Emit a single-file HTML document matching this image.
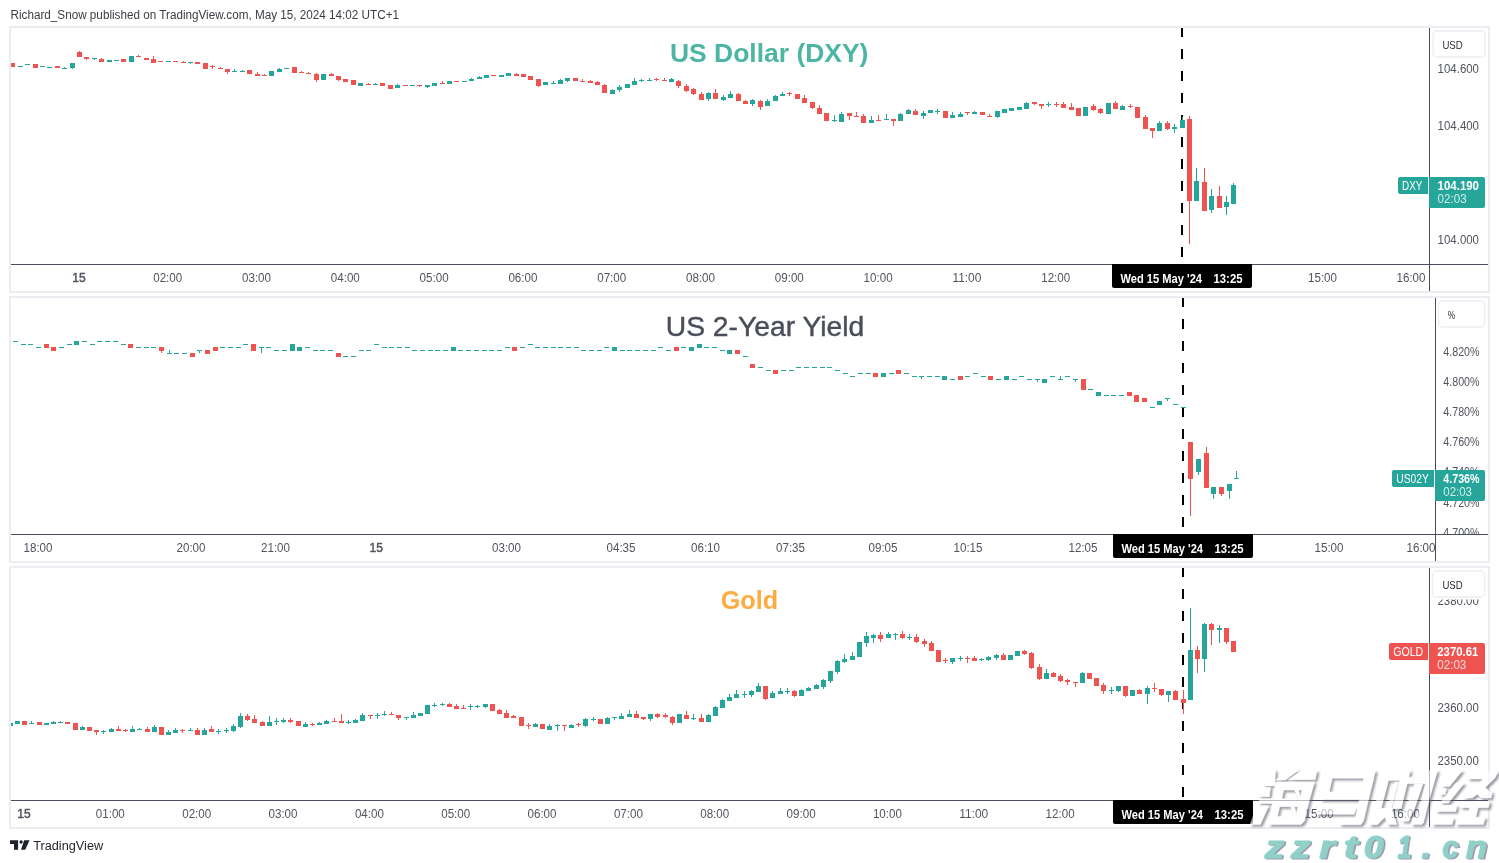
<!DOCTYPE html>
<html><head><meta charset="utf-8"><title>TradingView chart</title>
<style>
html,body{margin:0;padding:0;background:#fff;}
body{width:1499px;height:863px;overflow:hidden;font-family:"Liberation Sans",sans-serif;}
svg{display:block;font-family:"Liberation Sans",sans-serif;will-change:transform;}
</style></head><body>
<svg width="1499" height="863" viewBox="0 0 1499 863">
<rect x="0" y="0" width="1499" height="863" fill="#fff"/>
<text x="10.5" y="18.5" font-size="12" fill="#3a3d45" textLength="388.5" lengthAdjust="spacingAndGlyphs">Richard_Snow published on TradingView.com, May 15, 2024 14:02 UTC+1</text>
<clipPath id="cc0"><rect x="11" y="28" width="1418" height="236"/></clipPath>
<clipPath id="ca0"><rect x="1430" y="28" width="58" height="236"/></clipPath>
<clipPath id="ct0"><rect x="11" y="265" width="1418" height="26"/></clipPath>
<clipPath id="cc1"><rect x="11" y="298" width="1424" height="236"/></clipPath>
<clipPath id="ca1"><rect x="1436" y="298" width="52" height="236"/></clipPath>
<clipPath id="ct1"><rect x="11" y="535" width="1424" height="26"/></clipPath>
<clipPath id="cc2"><rect x="11" y="568" width="1418" height="232"/></clipPath>
<clipPath id="ca2"><rect x="1430" y="568" width="58" height="232"/></clipPath>
<clipPath id="ct2"><rect x="11" y="801" width="1418" height="26"/></clipPath>
<g shape-rendering="crispEdges">
<rect x="10" y="27" width="1479" height="265" fill="none" stroke="#ecedf2" stroke-width="2"/>
<rect x="1429" y="28" width="1" height="263" fill="#4a4e5c"/>
<rect x="11" y="264" width="1477" height="1" fill="#4a4e5c"/>
</g>
<g clip-path="url(#cc0)" shape-rendering="crispEdges">
<path fill="#000" d="M1181 27h2v10h-2zM1181 49h2v10h-2zM1181 71h2v10h-2zM1181 93h2v10h-2zM1181 115h2v10h-2zM1181 137h2v10h-2zM1181 159h2v10h-2zM1181 181h2v10h-2zM1181 203h2v10h-2zM1181 225h2v10h-2zM1181 247h2v10h-2z"/>
<path fill="#26a69a" d="M18 66h5v1h-5zM25 64h5v1h-5zM40 66h5v1h-5zM47 67h5v1h-5zM62 68h5v1h-5zM64 67h1v1h-1zM70 63h5v5h-5zM72 68h1v1h-1zM92 58h5v1h-5zM94 59h1v1h-1zM107 60h5v2h-5zM114 60h5v1h-5zM129 56h5v6h-5zM166 61h5v1h-5zM188 62h5v1h-5zM190 63h1v1h-1zM232 71h5v1h-5zM234 69h1v2h-1zM240 71h5v1h-5zM242 70h1v1h-1zM269 71h5v5h-5zM277 69h5v3h-5zM279 68h1v1h-1zM284 68h5v1h-5zM321 74h5v6h-5zM358 83h5v3h-5zM373 84h5v1h-5zM375 83h1v1h-1zM395 85h5v3h-5zM397 84h1v1h-1zM410 85h5v1h-5zM425 85h5v2h-5zM427 87h1v1h-1zM432 83h5v3h-5zM447 81h5v3h-5zM462 81h5v1h-5zM469 79h5v2h-5zM471 78h1v1h-1zM477 77h5v2h-5zM479 76h1v1h-1zM484 75h5v3h-5zM499 75h5v2h-5zM506 73h5v3h-5zM543 82h5v3h-5zM551 83h5v1h-5zM553 81h1v2h-1zM558 80h5v4h-5zM560 79h1v1h-1zM565 78h5v3h-5zM567 81h1v1h-1zM610 90h5v4h-5zM612 89h1v1h-1zM617 87h5v3h-5zM619 85h1v2h-1zM619 90h1v2h-1zM625 84h5v4h-5zM632 81h5v4h-5zM634 78h1v3h-1zM639 80h5v1h-5zM641 79h1v1h-1zM641 81h1v1h-1zM647 80h5v1h-5zM649 78h1v2h-1zM669 79h5v3h-5zM671 78h1v1h-1zM706 93h5v6h-5zM708 92h1v1h-1zM708 99h1v2h-1zM721 97h5v3h-5zM723 95h1v2h-1zM723 100h1v1h-1zM728 94h5v4h-5zM730 91h1v3h-1zM750 100h5v4h-5zM752 99h1v1h-1zM752 104h1v2h-1zM765 101h5v5h-5zM767 99h1v2h-1zM773 96h5v5h-5zM775 95h1v1h-1zM780 94h5v2h-5zM782 92h1v2h-1zM832 120h5v1h-5zM834 115h1v5h-1zM834 121h1v1h-1zM839 114h5v8h-5zM841 112h1v2h-1zM869 120h5v3h-5zM871 116h1v4h-1zM884 119h5v1h-5zM886 114h1v5h-1zM898 114h5v7h-5zM900 113h1v1h-1zM906 110h5v4h-5zM908 109h1v1h-1zM921 113h5v3h-5zM923 111h1v2h-1zM923 116h1v3h-1zM928 110h5v3h-5zM935 111h5v1h-5zM937 109h1v2h-1zM937 112h1v2h-1zM950 115h5v3h-5zM952 112h1v3h-1zM958 114h5v3h-5zM960 112h1v2h-1zM972 112h5v2h-5zM974 111h1v1h-1zM995 111h5v6h-5zM997 117h1v1h-1zM1002 109h5v4h-5zM1009 108h5v3h-5zM1017 107h5v3h-5zM1024 103h5v6h-5zM1026 102h1v1h-1zM1046 104h5v1h-5zM1048 102h1v2h-1zM1048 105h1v2h-1zM1083 107h5v9h-5zM1106 103h5v11h-5zM1120 106h5v4h-5zM1122 105h1v1h-1zM1157 123h5v8h-5zM1159 121h1v2h-1zM1172 127h5v2h-5zM1174 124h1v3h-1zM1174 129h1v4h-1zM1180 120h5v8h-5zM1182 117h1v3h-1zM1194 181h5v20h-5zM1196 168h1v13h-1zM1209 196h5v14h-5zM1211 189h1v7h-1zM1211 210h1v3h-1zM1224 202h5v5h-5zM1226 196h1v6h-1zM1226 207h1v8h-1zM1231 185h5v19h-5zM1233 183h1v2h-1z"/>
<path fill="#ef5350" d="M10 63h5v4h-5zM33 64h5v4h-5zM55 66h5v2h-5zM77 52h5v5h-5zM79 51h1v1h-1zM84 57h5v2h-5zM86 59h1v1h-1zM99 59h5v3h-5zM101 58h1v1h-1zM121 59h5v3h-5zM136 56h5v1h-5zM138 55h1v1h-1zM144 58h5v2h-5zM151 59h5v4h-5zM153 56h1v3h-1zM158 61h5v1h-5zM173 61h5v1h-5zM181 62h5v1h-5zM183 61h1v1h-1zM195 62h5v2h-5zM203 63h5v6h-5zM210 66h5v1h-5zM212 65h1v1h-1zM212 67h1v2h-1zM218 68h5v1h-5zM220 67h1v1h-1zM225 69h5v3h-5zM227 72h1v2h-1zM247 70h5v4h-5zM255 74h5v2h-5zM257 72h1v2h-1zM262 75h5v1h-5zM264 74h1v1h-1zM292 67h5v6h-5zM299 72h5v1h-5zM301 71h1v1h-1zM306 73h5v1h-5zM308 72h1v1h-1zM314 74h5v6h-5zM316 73h1v1h-1zM316 80h1v2h-1zM329 74h5v2h-5zM331 73h1v1h-1zM336 76h5v4h-5zM338 80h1v1h-1zM343 79h5v3h-5zM351 80h5v5h-5zM366 84h5v1h-5zM368 83h1v1h-1zM380 83h5v3h-5zM388 85h5v4h-5zM403 85h5v1h-5zM417 85h5v1h-5zM419 86h1v1h-1zM440 83h5v1h-5zM442 81h1v2h-1zM454 81h5v1h-5zM491 75h5v1h-5zM514 74h5v2h-5zM516 73h1v1h-1zM521 74h5v3h-5zM528 76h5v4h-5zM536 79h5v7h-5zM538 86h1v1h-1zM573 78h5v3h-5zM580 81h5v1h-5zM582 79h1v2h-1zM588 81h5v2h-5zM590 80h1v1h-1zM595 82h5v3h-5zM597 81h1v1h-1zM602 85h5v8h-5zM604 84h1v1h-1zM654 79h5v1h-5zM656 78h1v1h-1zM656 80h1v1h-1zM662 80h5v1h-5zM664 78h1v2h-1zM676 81h5v5h-5zM678 80h1v1h-1zM678 86h1v2h-1zM684 86h5v5h-5zM686 84h1v2h-1zM686 91h1v1h-1zM691 89h5v5h-5zM693 88h1v1h-1zM693 94h1v1h-1zM699 94h5v6h-5zM701 92h1v2h-1zM713 93h5v6h-5zM715 89h1v4h-1zM736 94h5v7h-5zM738 93h1v1h-1zM743 101h5v3h-5zM745 100h1v1h-1zM758 101h5v6h-5zM760 100h1v1h-1zM760 107h1v3h-1zM787 93h5v1h-5zM789 92h1v1h-1zM789 94h1v2h-1zM795 94h5v5h-5zM802 98h5v5h-5zM804 95h1v3h-1zM810 102h5v6h-5zM812 108h1v1h-1zM817 108h5v6h-5zM819 105h1v3h-1zM824 113h5v8h-5zM847 113h5v3h-5zM849 116h1v4h-1zM854 116h5v1h-5zM856 112h1v4h-1zM861 116h5v7h-5zM863 114h1v2h-1zM876 120h5v1h-5zM878 115h1v5h-1zM891 119h5v2h-5zM893 121h1v5h-1zM913 111h5v4h-5zM915 109h1v2h-1zM943 111h5v7h-5zM965 112h5v1h-5zM967 113h1v2h-1zM980 112h5v3h-5zM987 116h5v1h-5zM989 114h1v2h-1zM1032 102h5v2h-5zM1034 104h1v1h-1zM1039 104h5v2h-5zM1041 106h1v3h-1zM1054 104h5v1h-5zM1056 102h1v2h-1zM1056 105h1v2h-1zM1061 104h5v4h-5zM1063 102h1v2h-1zM1069 107h5v3h-5zM1071 103h1v4h-1zM1076 108h5v8h-5zM1091 106h5v4h-5zM1093 104h1v2h-1zM1093 110h1v1h-1zM1098 109h5v4h-5zM1100 108h1v1h-1zM1100 113h1v1h-1zM1113 103h5v6h-5zM1115 101h1v2h-1zM1128 106h5v1h-5zM1130 104h1v2h-1zM1130 107h1v1h-1zM1135 107h5v11h-5zM1143 117h5v12h-5zM1145 115h1v2h-1zM1150 128h5v3h-5zM1152 131h1v7h-1zM1165 123h5v6h-5zM1167 121h1v2h-1zM1167 129h1v1h-1zM1187 119h5v82h-5zM1189 116h1v3h-1zM1189 201h1v43h-1zM1202 182h5v29h-5zM1204 168h1v14h-1zM1217 196h5v12h-5zM1219 186h1v10h-1z"/>

</g>
<text x="769.2" y="61.5" font-size="26.5" fill="#4cb5a3" text-anchor="middle" font-weight="bold" textLength="198.5" lengthAdjust="spacingAndGlyphs">US Dollar (DXY)</text>
<g clip-path="url(#ca0)">
<text x="1437.6" y="72.7" font-size="12" fill="#50535e" textLength="41.4" lengthAdjust="spacingAndGlyphs">104.600</text>
<text x="1437.6" y="129.7" font-size="12" fill="#50535e" textLength="41.4" lengthAdjust="spacingAndGlyphs">104.400</text>
<text x="1437.6" y="186.7" font-size="12" fill="#50535e" textLength="41.4" lengthAdjust="spacingAndGlyphs">104.200</text>
<text x="1437.6" y="243.7" font-size="12" fill="#50535e" textLength="41.4" lengthAdjust="spacingAndGlyphs">104.000</text>
</g>
<rect x="1431" y="28.5" width="56" height="31" fill="#fff"/>
<rect x="1433" y="31" width="52" height="26" rx="4" ry="4" fill="#fff" stroke="#ecedf2" stroke-width="1.3"/>
<text x="1442.4" y="48.5" font-size="11" fill="#2a2e39" textLength="20.3" lengthAdjust="spacingAndGlyphs">USD</text>
<path fill="#26a69a" d="M1400 177H1428V194H1400a2 2 0 0 1 -2 -2V179a2 2 0 0 1 2 -2z"/>
<path fill="#26a69a" d="M1429 177H1483a2 2 0 0 1 2 2V206a2 2 0 0 1 -2 2H1429z"/>
<text x="1402" y="189.6" font-size="12" fill="#fff" textLength="20.3" lengthAdjust="spacingAndGlyphs">DXY</text>
<text x="1437.6" y="189.6" font-size="12" fill="#fff" font-weight="bold" textLength="41.4" lengthAdjust="spacingAndGlyphs">104.190</text>
<text x="1437.6" y="203.3" font-size="12" fill="#fff" textLength="29" lengthAdjust="spacingAndGlyphs" fill-opacity="0.8">02:03</text>
<g clip-path="url(#ct0)">
<text x="79" y="281.8" font-size="12" fill="#50535e" text-anchor="middle" stroke="#50535e" stroke-width="0.45">15</text>
<text x="167.7" y="281.8" font-size="12" fill="#50535e" text-anchor="middle" textLength="29" lengthAdjust="spacingAndGlyphs">02:00</text>
<text x="256.5" y="281.8" font-size="12" fill="#50535e" text-anchor="middle" textLength="29" lengthAdjust="spacingAndGlyphs">03:00</text>
<text x="345.3" y="281.8" font-size="12" fill="#50535e" text-anchor="middle" textLength="29" lengthAdjust="spacingAndGlyphs">04:00</text>
<text x="434.1" y="281.8" font-size="12" fill="#50535e" text-anchor="middle" textLength="29" lengthAdjust="spacingAndGlyphs">05:00</text>
<text x="522.9" y="281.8" font-size="12" fill="#50535e" text-anchor="middle" textLength="29" lengthAdjust="spacingAndGlyphs">06:00</text>
<text x="611.7" y="281.8" font-size="12" fill="#50535e" text-anchor="middle" textLength="29" lengthAdjust="spacingAndGlyphs">07:00</text>
<text x="700.5" y="281.8" font-size="12" fill="#50535e" text-anchor="middle" textLength="29" lengthAdjust="spacingAndGlyphs">08:00</text>
<text x="789.3" y="281.8" font-size="12" fill="#50535e" text-anchor="middle" textLength="29" lengthAdjust="spacingAndGlyphs">09:00</text>
<text x="878.1" y="281.8" font-size="12" fill="#50535e" text-anchor="middle" textLength="29" lengthAdjust="spacingAndGlyphs">10:00</text>
<text x="966.9" y="281.8" font-size="12" fill="#50535e" text-anchor="middle" textLength="29" lengthAdjust="spacingAndGlyphs">11:00</text>
<text x="1055.7" y="281.8" font-size="12" fill="#50535e" text-anchor="middle" textLength="29" lengthAdjust="spacingAndGlyphs">12:00</text>
<text x="1322.5" y="281.8" font-size="12" fill="#50535e" text-anchor="middle" textLength="29" lengthAdjust="spacingAndGlyphs">15:00</text>
<text x="1411" y="281.8" font-size="12" fill="#50535e" text-anchor="middle" textLength="29" lengthAdjust="spacingAndGlyphs">16:00</text>
</g>
<path fill="#000" d="M1112 264H1252V286a2 2 0 0 1 -2 2H1114a2 2 0 0 1 -2 -2z"/>
<text x="1120.5" y="282.5" font-size="12" fill="#fff" font-weight="bold" textLength="81.5" lengthAdjust="spacingAndGlyphs">Wed 15 May '24</text>
<text x="1213.5" y="282.5" font-size="12" fill="#fff" font-weight="bold" textLength="29" lengthAdjust="spacingAndGlyphs">13:25</text>
<g shape-rendering="crispEdges">
<rect x="10" y="297" width="1479" height="265" fill="none" stroke="#ecedf2" stroke-width="2"/>
<rect x="1435" y="298" width="1" height="263" fill="#4a4e5c"/>
<rect x="11" y="534" width="1477" height="1" fill="#4a4e5c"/>
</g>
<g clip-path="url(#cc1)" shape-rendering="crispEdges">
<path fill="#000" d="M1182 297h2v10h-2zM1182 319h2v10h-2zM1182 341h2v10h-2zM1182 363h2v10h-2zM1182 385h2v10h-2zM1182 407h2v10h-2zM1182 429h2v10h-2zM1182 451h2v10h-2zM1182 473h2v10h-2zM1182 495h2v10h-2zM1182 517h2v10h-2z"/>
<path fill="#26a69a" d="M13 341h5v1h-5zM21 344h5v1h-5zM28 344h5v1h-5zM36 347h5v1h-5zM59 347h5v1h-5zM67 344h5v1h-5zM74 341h5v4h-5zM82 341h5v1h-5zM90 344h5v1h-5zM97 341h5v1h-5zM105 341h5v1h-5zM113 341h5v1h-5zM121 344h5v1h-5zM136 347h5v1h-5zM144 347h5v1h-5zM151 347h5v1h-5zM167 353h5v1h-5zM169 350h1v3h-1zM174 353h5v1h-5zM182 353h5v1h-5zM197 350h5v1h-5zM199 351h1v2h-1zM220 347h5v1h-5zM228 347h5v1h-5zM236 347h5v1h-5zM243 344h5v1h-5zM259 347h5v1h-5zM261 348h1v5h-1zM266 347h5v1h-5zM274 350h5v1h-5zM282 350h5v1h-5zM290 344h5v7h-5zM297 347h5v4h-5zM305 347h5v1h-5zM313 350h5v1h-5zM320 350h5v1h-5zM328 350h5v1h-5zM343 356h5v1h-5zM351 356h5v1h-5zM359 350h5v1h-5zM366 350h5v1h-5zM374 344h5v1h-5zM382 347h5v1h-5zM389 347h5v1h-5zM397 347h5v1h-5zM405 347h5v1h-5zM412 350h5v1h-5zM420 350h5v1h-5zM428 350h5v1h-5zM435 350h5v1h-5zM443 350h5v1h-5zM451 347h5v4h-5zM458 350h5v1h-5zM466 350h5v1h-5zM474 350h5v1h-5zM482 350h5v1h-5zM489 350h5v1h-5zM497 350h5v1h-5zM505 347h5v1h-5zM520 347h5v1h-5zM528 344h5v1h-5zM535 347h5v1h-5zM543 347h5v1h-5zM551 347h5v1h-5zM558 347h5v1h-5zM566 347h5v1h-5zM574 347h5v1h-5zM581 350h5v1h-5zM589 350h5v1h-5zM597 350h5v1h-5zM604 347h5v1h-5zM612 347h5v4h-5zM620 350h5v1h-5zM627 350h5v1h-5zM635 350h5v1h-5zM643 350h5v1h-5zM651 350h5v1h-5zM658 347h5v1h-5zM666 350h5v1h-5zM681 347h5v1h-5zM689 347h5v4h-5zM697 344h5v4h-5zM704 347h5v1h-5zM712 347h5v1h-5zM720 350h5v1h-5zM727 350h5v4h-5zM743 356h5v1h-5zM758 367h5v1h-5zM766 370h5v1h-5zM781 370h5v1h-5zM789 370h5v1h-5zM796 367h5v1h-5zM804 367h5v1h-5zM812 367h5v1h-5zM820 367h5v1h-5zM827 367h5v1h-5zM835 370h5v1h-5zM843 373h5v1h-5zM850 376h5v1h-5zM858 373h5v1h-5zM866 373h5v1h-5zM881 373h5v4h-5zM889 373h5v1h-5zM904 373h5v1h-5zM912 376h5v1h-5zM919 376h5v1h-5zM921 377h1v2h-1zM927 376h5v1h-5zM935 376h5v1h-5zM942 376h5v4h-5zM950 379h5v1h-5zM965 376h5v1h-5zM973 373h5v1h-5zM981 376h5v1h-5zM996 379h5v1h-5zM1004 376h5v4h-5zM1012 379h5v1h-5zM1019 376h5v1h-5zM1027 379h5v1h-5zM1035 379h5v1h-5zM1037 380h1v2h-1zM1042 379h5v4h-5zM1050 376h5v1h-5zM1058 379h5v1h-5zM1060 376h1v3h-1zM1065 376h5v1h-5zM1073 379h5v1h-5zM1075 380h1v2h-1zM1088 389h5v1h-5zM1096 392h5v4h-5zM1104 395h5v1h-5zM1111 395h5v1h-5zM1119 395h5v1h-5zM1150 407h5v1h-5zM1157 401h5v4h-5zM1165 398h5v1h-5zM1167 399h1v2h-1zM1173 404h5v1h-5zM1181 407h5v1h-5zM1196 459h5v13h-5zM1198 472h1v3h-1zM1211 487h5v7h-5zM1213 494h1v5h-1zM1227 484h5v7h-5zM1229 491h1v8h-1zM1234 478h5v1h-5zM1236 471h1v7h-1z"/>
<path fill="#ef5350" d="M44 344h5v4h-5zM51 347h5v4h-5zM128 344h5v4h-5zM159 347h5v4h-5zM161 351h1v2h-1zM190 353h5v4h-5zM205 350h5v4h-5zM213 347h5v4h-5zM251 344h5v7h-5zM336 353h5v4h-5zM512 347h5v4h-5zM674 347h5v4h-5zM735 350h5v4h-5zM750 364h5v4h-5zM773 370h5v4h-5zM873 373h5v4h-5zM896 370h5v4h-5zM958 376h5v4h-5zM988 376h5v4h-5zM1081 379h5v11h-5zM1127 392h5v4h-5zM1134 395h5v7h-5zM1142 398h5v4h-5zM1188 442h5v37h-5zM1190 479h1v37h-1zM1204 453h5v35h-5zM1206 447h1v6h-1zM1219 487h5v7h-5zM1221 494h1v2h-1z"/>

</g>
<text x="765" y="335.9" font-size="27" fill="#4a4e5a" text-anchor="middle" textLength="198.5" lengthAdjust="spacingAndGlyphs" stroke="#4a4e5a" stroke-width="0.4">US 2-Year Yield</text>
<g clip-path="url(#ca1)">
<text x="1443.3" y="356.0" font-size="12" fill="#50535e" textLength="36.2" lengthAdjust="spacingAndGlyphs">4.820%</text>
<text x="1443.3" y="386.1" font-size="12" fill="#50535e" textLength="36.2" lengthAdjust="spacingAndGlyphs">4.800%</text>
<text x="1443.3" y="416.2" font-size="12" fill="#50535e" textLength="36.2" lengthAdjust="spacingAndGlyphs">4.780%</text>
<text x="1443.3" y="446.3" font-size="12" fill="#50535e" textLength="36.2" lengthAdjust="spacingAndGlyphs">4.760%</text>
<text x="1443.3" y="476.4" font-size="12" fill="#50535e" textLength="36.2" lengthAdjust="spacingAndGlyphs">4.740%</text>
<text x="1443.3" y="506.5" font-size="12" fill="#50535e" textLength="36.2" lengthAdjust="spacingAndGlyphs">4.720%</text>
<text x="1443.3" y="536.6" font-size="12" fill="#50535e" textLength="36.2" lengthAdjust="spacingAndGlyphs">4.700%</text>
</g>
<rect x="1436.5" y="298.5" width="50" height="31" fill="#fff"/>
<rect x="1438.5" y="301" width="46" height="26" rx="4" ry="4" fill="#fff" stroke="#ecedf2" stroke-width="1.3"/>
<text x="1447.8" y="319" font-size="11" fill="#2a2e39" textLength="7.4" lengthAdjust="spacingAndGlyphs">%</text>
<path fill="#26a69a" d="M1394 470H1434V487H1394a2 2 0 0 1 -2 -2V472a2 2 0 0 1 2 -2z"/>
<path fill="#26a69a" d="M1435 470H1483a2 2 0 0 1 2 2V499a2 2 0 0 1 -2 2H1435z"/>
<text x="1396.3" y="482.6" font-size="12" fill="#fff" textLength="32.6" lengthAdjust="spacingAndGlyphs">US02Y</text>
<text x="1443.3" y="482.6" font-size="12" fill="#fff" font-weight="bold" textLength="36.2" lengthAdjust="spacingAndGlyphs">4.736%</text>
<text x="1443.3" y="496.3" font-size="12" fill="#fff" textLength="28.7" lengthAdjust="spacingAndGlyphs" fill-opacity="0.8">02:03</text>
<g clip-path="url(#ct1)">
<text x="38" y="551.7" font-size="12" fill="#50535e" text-anchor="middle" textLength="29" lengthAdjust="spacingAndGlyphs">18:00</text>
<text x="191" y="551.7" font-size="12" fill="#50535e" text-anchor="middle" textLength="29" lengthAdjust="spacingAndGlyphs">20:00</text>
<text x="275.5" y="551.7" font-size="12" fill="#50535e" text-anchor="middle" textLength="29" lengthAdjust="spacingAndGlyphs">21:00</text>
<text x="506.5" y="551.7" font-size="12" fill="#50535e" text-anchor="middle" textLength="29" lengthAdjust="spacingAndGlyphs">03:00</text>
<text x="621" y="551.7" font-size="12" fill="#50535e" text-anchor="middle" textLength="29" lengthAdjust="spacingAndGlyphs">04:35</text>
<text x="705.5" y="551.7" font-size="12" fill="#50535e" text-anchor="middle" textLength="29" lengthAdjust="spacingAndGlyphs">06:10</text>
<text x="790.5" y="551.7" font-size="12" fill="#50535e" text-anchor="middle" textLength="29" lengthAdjust="spacingAndGlyphs">07:35</text>
<text x="883" y="551.7" font-size="12" fill="#50535e" text-anchor="middle" textLength="29" lengthAdjust="spacingAndGlyphs">09:05</text>
<text x="968" y="551.7" font-size="12" fill="#50535e" text-anchor="middle" textLength="29" lengthAdjust="spacingAndGlyphs">10:15</text>
<text x="1083" y="551.7" font-size="12" fill="#50535e" text-anchor="middle" textLength="29" lengthAdjust="spacingAndGlyphs">12:05</text>
<text x="1329" y="551.7" font-size="12" fill="#50535e" text-anchor="middle" textLength="29" lengthAdjust="spacingAndGlyphs">15:00</text>
<text x="1421" y="551.7" font-size="12" fill="#50535e" text-anchor="middle" textLength="29" lengthAdjust="spacingAndGlyphs">16:00</text>
<text x="376.2" y="551.7" font-size="12" fill="#50535e" text-anchor="middle" stroke="#50535e" stroke-width="0.45">15</text>
</g>
<path fill="#000" d="M1113 534H1253V556a2 2 0 0 1 -2 2H1115a2 2 0 0 1 -2 -2z"/>
<text x="1121.5" y="552.5" font-size="12" fill="#fff" font-weight="bold" textLength="81.5" lengthAdjust="spacingAndGlyphs">Wed 15 May '24</text>
<text x="1214.5" y="552.5" font-size="12" fill="#fff" font-weight="bold" textLength="29" lengthAdjust="spacingAndGlyphs">13:25</text>
<g shape-rendering="crispEdges">
<rect x="10" y="567" width="1479" height="261" fill="none" stroke="#ecedf2" stroke-width="2"/>
<rect x="1429" y="568" width="1" height="259" fill="#4a4e5c"/>
<rect x="11" y="800" width="1477" height="1" fill="#4a4e5c"/>
</g>
<g clip-path="url(#cc2)" shape-rendering="crispEdges">
<path fill="#000" d="M1182 567h2v10h-2zM1182 589h2v10h-2zM1182 611h2v10h-2zM1182 633h2v10h-2zM1182 655h2v10h-2zM1182 677h2v10h-2zM1182 699h2v10h-2zM1182 721h2v10h-2zM1182 743h2v10h-2zM1182 765h2v10h-2zM1182 787h2v10h-2z"/>
<path fill="#26a69a" d="M8 723h5v3h-5zM15 721h5v3h-5zM29 723h5v1h-5zM31 721h1v2h-1zM44 723h5v2h-5zM51 722h5v2h-5zM53 721h1v1h-1zM58 722h5v1h-5zM60 721h1v1h-1zM80 727h5v3h-5zM82 726h1v1h-1zM101 731h5v1h-5zM103 730h1v1h-1zM103 732h1v2h-1zM109 729h5v3h-5zM111 728h1v1h-1zM130 729h5v3h-5zM132 726h1v3h-1zM137 729h5v1h-5zM139 728h1v1h-1zM152 727h5v5h-5zM154 725h1v2h-1zM166 732h5v3h-5zM168 730h1v2h-1zM173 730h5v3h-5zM175 728h1v2h-1zM188 730h5v1h-5zM190 728h1v2h-1zM202 730h5v5h-5zM204 728h1v2h-1zM216 731h5v1h-5zM218 729h1v2h-1zM218 732h1v2h-1zM224 730h5v1h-5zM226 728h1v2h-1zM226 731h1v2h-1zM231 726h5v5h-5zM233 724h1v2h-1zM233 731h1v1h-1zM238 716h5v11h-5zM240 713h1v3h-1zM240 727h1v1h-1zM267 722h5v4h-5zM269 716h1v6h-1zM274 721h5v1h-5zM276 718h1v3h-1zM276 722h1v3h-1zM281 720h5v2h-5zM283 718h1v2h-1zM283 722h1v1h-1zM303 724h5v3h-5zM305 722h1v2h-1zM317 723h5v2h-5zM319 722h1v1h-1zM324 721h5v3h-5zM326 720h1v1h-1zM346 722h5v1h-5zM348 720h1v2h-1zM348 723h1v1h-1zM353 720h5v3h-5zM355 719h1v1h-1zM360 715h5v6h-5zM362 713h1v2h-1zM375 715h5v1h-5zM377 713h1v2h-1zM377 716h1v3h-1zM382 714h5v1h-5zM384 711h1v3h-1zM384 715h1v1h-1zM404 717h5v1h-5zM406 718h1v2h-1zM411 715h5v3h-5zM413 712h1v3h-1zM418 713h5v3h-5zM425 705h5v9h-5zM432 705h5v1h-5zM434 703h1v2h-1zM434 706h1v1h-1zM440 704h5v1h-5zM442 703h1v1h-1zM442 705h1v1h-1zM468 706h5v1h-5zM470 704h1v2h-1zM470 707h1v3h-1zM475 706h5v1h-5zM477 705h1v1h-1zM477 707h1v1h-1zM483 704h5v3h-5zM485 707h1v1h-1zM533 724h5v3h-5zM535 723h1v1h-1zM547 726h5v4h-5zM549 724h1v2h-1zM555 725h5v1h-5zM557 724h1v1h-1zM557 726h1v5h-1zM569 725h5v3h-5zM571 724h1v1h-1zM583 719h5v7h-5zM585 718h1v1h-1zM585 726h1v1h-1zM591 719h5v1h-5zM593 717h1v2h-1zM593 720h1v1h-1zM605 718h5v6h-5zM607 717h1v1h-1zM612 717h5v1h-5zM614 718h1v2h-1zM619 716h5v3h-5zM621 713h1v3h-1zM627 714h5v3h-5zM629 710h1v4h-1zM648 714h5v5h-5zM650 719h1v2h-1zM677 714h5v9h-5zM691 718h5v1h-5zM693 714h1v4h-1zM693 719h1v1h-1zM706 715h5v7h-5zM708 714h1v1h-1zM713 707h5v9h-5zM715 706h1v1h-1zM720 700h5v8h-5zM722 699h1v1h-1zM727 697h5v4h-5zM729 694h1v3h-1zM734 694h5v4h-5zM736 690h1v4h-1zM742 694h5v1h-5zM744 691h1v3h-1zM744 695h1v3h-1zM749 691h5v4h-5zM751 690h1v1h-1zM751 695h1v2h-1zM756 686h5v6h-5zM758 683h1v3h-1zM770 693h5v5h-5zM772 691h1v2h-1zM778 691h5v3h-5zM780 688h1v3h-1zM785 691h5v1h-5zM787 688h1v3h-1zM787 692h1v2h-1zM799 690h5v6h-5zM801 689h1v1h-1zM806 688h5v3h-5zM808 687h1v1h-1zM814 685h5v4h-5zM816 684h1v1h-1zM821 680h5v7h-5zM823 679h1v1h-1zM823 687h1v2h-1zM828 671h5v10h-5zM830 681h1v2h-1zM835 661h5v11h-5zM837 660h1v1h-1zM837 672h1v2h-1zM842 659h5v3h-5zM844 654h1v5h-1zM844 662h1v1h-1zM850 656h5v4h-5zM852 652h1v4h-1zM857 642h5v15h-5zM864 636h5v7h-5zM866 632h1v4h-1zM866 643h1v4h-1zM871 635h5v3h-5zM873 634h1v1h-1zM873 638h1v5h-1zM886 634h5v4h-5zM888 632h1v2h-1zM893 634h5v1h-5zM895 633h1v1h-1zM895 635h1v5h-1zM907 637h5v1h-5zM909 634h1v3h-1zM909 638h1v2h-1zM950 658h5v4h-5zM952 662h1v2h-1zM958 658h5v1h-5zM960 656h1v2h-1zM960 659h1v2h-1zM979 659h5v1h-5zM981 658h1v1h-1zM981 660h1v1h-1zM986 657h5v3h-5zM988 656h1v1h-1zM988 660h1v1h-1zM994 655h5v3h-5zM996 654h1v1h-1zM996 658h1v2h-1zM1008 655h5v5h-5zM1015 651h5v5h-5zM1044 673h5v6h-5zM1046 669h1v4h-1zM1080 673h5v10h-5zM1082 672h1v1h-1zM1109 690h5v1h-5zM1111 687h1v3h-1zM1111 691h1v3h-1zM1116 686h5v5h-5zM1118 691h1v1h-1zM1130 690h5v6h-5zM1145 688h5v6h-5zM1147 686h1v2h-1zM1147 694h1v10h-1zM1166 691h5v4h-5zM1168 695h1v7h-1zM1188 650h5v50h-5zM1190 608h1v42h-1zM1202 624h5v35h-5zM1204 623h1v1h-1zM1204 659h1v13h-1zM1217 628h5v2h-5zM1219 625h1v3h-1zM1219 630h1v13h-1z"/>
<path fill="#ef5350" d="M22 721h5v4h-5zM37 722h5v3h-5zM65 722h5v2h-5zM73 723h5v7h-5zM87 727h5v4h-5zM94 730h5v2h-5zM96 732h1v3h-1zM116 729h5v2h-5zM118 726h1v3h-1zM123 730h5v1h-5zM125 729h1v1h-1zM125 731h1v1h-1zM145 729h5v3h-5zM147 727h1v2h-1zM159 727h5v8h-5zM180 730h5v1h-5zM182 729h1v1h-1zM182 731h1v2h-1zM195 730h5v5h-5zM197 728h1v2h-1zM209 729h5v3h-5zM211 726h1v3h-1zM245 716h5v4h-5zM247 714h1v2h-1zM247 720h1v1h-1zM252 719h5v4h-5zM254 715h1v4h-1zM260 722h5v4h-5zM262 721h1v1h-1zM288 720h5v2h-5zM290 718h1v2h-1zM290 722h1v1h-1zM296 721h5v5h-5zM310 724h5v1h-5zM312 723h1v1h-1zM312 725h1v1h-1zM332 721h5v1h-5zM334 718h1v3h-1zM339 721h5v2h-5zM341 714h1v7h-1zM368 715h5v1h-5zM370 716h1v3h-1zM389 714h5v1h-5zM391 712h1v2h-1zM396 715h5v3h-5zM398 718h1v2h-1zM447 704h5v3h-5zM449 703h1v1h-1zM454 706h5v3h-5zM456 704h1v2h-1zM461 708h5v1h-5zM463 705h1v3h-1zM490 704h5v7h-5zM497 710h5v4h-5zM499 709h1v1h-1zM504 713h5v5h-5zM506 710h1v3h-1zM511 716h5v2h-5zM513 715h1v1h-1zM519 717h5v9h-5zM526 725h5v1h-5zM528 723h1v2h-1zM528 726h1v3h-1zM540 724h5v5h-5zM562 725h5v1h-5zM564 726h1v5h-1zM576 724h5v1h-5zM578 723h1v1h-1zM578 725h1v2h-1zM598 719h5v5h-5zM634 714h5v4h-5zM636 711h1v3h-1zM641 717h5v2h-5zM643 719h1v1h-1zM655 714h5v3h-5zM657 713h1v1h-1zM657 717h1v1h-1zM663 715h5v2h-5zM665 713h1v2h-1zM665 717h1v1h-1zM670 717h5v6h-5zM672 716h1v1h-1zM672 723h1v2h-1zM684 715h5v4h-5zM686 711h1v4h-1zM699 718h5v4h-5zM701 714h1v4h-1zM763 686h5v13h-5zM765 699h1v1h-1zM792 691h5v5h-5zM794 690h1v1h-1zM794 696h1v1h-1zM878 635h5v4h-5zM880 632h1v3h-1zM880 639h1v3h-1zM900 634h5v4h-5zM902 631h1v3h-1zM902 638h1v1h-1zM914 637h5v5h-5zM916 634h1v3h-1zM916 642h1v1h-1zM922 641h5v3h-5zM924 639h1v2h-1zM924 644h1v3h-1zM929 643h5v8h-5zM931 641h1v2h-1zM936 650h5v12h-5zM943 660h5v1h-5zM945 658h1v2h-1zM945 661h1v2h-1zM965 658h5v1h-5zM967 656h1v2h-1zM967 659h1v4h-1zM972 658h5v3h-5zM974 656h1v2h-1zM1001 655h5v5h-5zM1003 653h1v2h-1zM1022 651h5v3h-5zM1024 650h1v1h-1zM1024 654h1v1h-1zM1029 653h5v15h-5zM1031 652h1v1h-1zM1031 668h1v1h-1zM1037 667h5v12h-5zM1039 664h1v3h-1zM1039 679h1v1h-1zM1051 673h5v4h-5zM1053 672h1v1h-1zM1058 676h5v5h-5zM1060 674h1v2h-1zM1060 681h1v1h-1zM1065 680h5v2h-5zM1067 679h1v1h-1zM1067 682h1v3h-1zM1073 682h5v1h-5zM1075 683h1v4h-1zM1087 673h5v6h-5zM1094 678h5v8h-5zM1101 685h5v6h-5zM1103 683h1v2h-1zM1103 691h1v3h-1zM1123 686h5v10h-5zM1125 696h1v1h-1zM1137 690h5v4h-5zM1139 689h1v1h-1zM1152 688h5v1h-5zM1154 683h1v5h-1zM1154 689h1v3h-1zM1159 689h5v6h-5zM1161 695h1v1h-1zM1173 691h5v9h-5zM1175 690h1v1h-1zM1181 699h5v4h-5zM1183 690h1v9h-1zM1183 703h1v11h-1zM1195 650h5v9h-5zM1197 646h1v4h-1zM1197 659h1v14h-1zM1209 624h5v6h-5zM1211 623h1v1h-1zM1211 630h1v15h-1zM1224 628h5v14h-5zM1226 642h1v2h-1zM1231 641h5v11h-5z"/>

</g>
<text x="749.4" y="608.8" font-size="26.5" fill="#ffab40" text-anchor="middle" font-weight="bold" textLength="57.5" lengthAdjust="spacingAndGlyphs">Gold</text>
<g clip-path="url(#ca2)">
<text x="1437.5" y="605" font-size="12" fill="#50535e" textLength="41.3" lengthAdjust="spacingAndGlyphs">2380.00</text>
<text x="1437.5" y="658.3" font-size="12" fill="#50535e" textLength="41.3" lengthAdjust="spacingAndGlyphs">2370.00</text>
<text x="1437.5" y="711.7" font-size="12" fill="#50535e" textLength="41.3" lengthAdjust="spacingAndGlyphs">2360.00</text>
<text x="1437.5" y="765.4" font-size="12" fill="#50535e" textLength="41.3" lengthAdjust="spacingAndGlyphs">2350.00</text>
</g>
<rect x="1430.5" y="568.5" width="56" height="31" fill="#fff"/>
<rect x="1432.5" y="571" width="52" height="26" rx="4" ry="4" fill="#fff" stroke="#ecedf2" stroke-width="1.3"/>
<text x="1442.4" y="588.5" font-size="11" fill="#2a2e39" textLength="20.3" lengthAdjust="spacingAndGlyphs">USD</text>
<path fill="#ef5350" d="M1391 643H1428V660H1391a2 2 0 0 1 -2 -2V645a2 2 0 0 1 2 -2z"/>
<path fill="#ef5350" d="M1429 643H1483a2 2 0 0 1 2 2V672a2 2 0 0 1 -2 2H1429z"/>
<text x="1393.2" y="655.6" font-size="12" fill="#fff" textLength="30" lengthAdjust="spacingAndGlyphs">GOLD</text>
<text x="1437.3" y="655.6" font-size="12" fill="#fff" font-weight="bold" textLength="41" lengthAdjust="spacingAndGlyphs">2370.61</text>
<text x="1437.3" y="669.3" font-size="12" fill="#fff" textLength="29" lengthAdjust="spacingAndGlyphs" fill-opacity="0.8">02:03</text>
<g clip-path="url(#ct2)">
<text x="24" y="817.8" font-size="12" fill="#50535e" text-anchor="middle" stroke="#50535e" stroke-width="0.45">15</text>
<text x="110.3" y="817.8" font-size="12" fill="#50535e" text-anchor="middle" textLength="29" lengthAdjust="spacingAndGlyphs">01:00</text>
<text x="196.7" y="817.8" font-size="12" fill="#50535e" text-anchor="middle" textLength="29" lengthAdjust="spacingAndGlyphs">02:00</text>
<text x="283.0" y="817.8" font-size="12" fill="#50535e" text-anchor="middle" textLength="29" lengthAdjust="spacingAndGlyphs">03:00</text>
<text x="369.4" y="817.8" font-size="12" fill="#50535e" text-anchor="middle" textLength="29" lengthAdjust="spacingAndGlyphs">04:00</text>
<text x="455.7" y="817.8" font-size="12" fill="#50535e" text-anchor="middle" textLength="29" lengthAdjust="spacingAndGlyphs">05:00</text>
<text x="542.0" y="817.8" font-size="12" fill="#50535e" text-anchor="middle" textLength="29" lengthAdjust="spacingAndGlyphs">06:00</text>
<text x="628.4" y="817.8" font-size="12" fill="#50535e" text-anchor="middle" textLength="29" lengthAdjust="spacingAndGlyphs">07:00</text>
<text x="714.7" y="817.8" font-size="12" fill="#50535e" text-anchor="middle" textLength="29" lengthAdjust="spacingAndGlyphs">08:00</text>
<text x="801.1" y="817.8" font-size="12" fill="#50535e" text-anchor="middle" textLength="29" lengthAdjust="spacingAndGlyphs">09:00</text>
<text x="887.4" y="817.8" font-size="12" fill="#50535e" text-anchor="middle" textLength="29" lengthAdjust="spacingAndGlyphs">10:00</text>
<text x="973.7" y="817.8" font-size="12" fill="#50535e" text-anchor="middle" textLength="29" lengthAdjust="spacingAndGlyphs">11:00</text>
<text x="1060.1" y="817.8" font-size="12" fill="#50535e" text-anchor="middle" textLength="29" lengthAdjust="spacingAndGlyphs">12:00</text>
<text x="1319.1" y="817.8" font-size="12" fill="#50535e" text-anchor="middle" textLength="29" lengthAdjust="spacingAndGlyphs">15:00</text>
<text x="1405.4" y="817.8" font-size="12" fill="#50535e" text-anchor="middle" textLength="29" lengthAdjust="spacingAndGlyphs">16:00</text>
</g>
<path fill="#000" d="M1113 800H1253V822a2 2 0 0 1 -2 2H1115a2 2 0 0 1 -2 -2z"/>
<text x="1121.5" y="818.5" font-size="12" fill="#fff" font-weight="bold" textLength="81.5" lengthAdjust="spacingAndGlyphs">Wed 15 May '24</text>
<text x="1214.5" y="818.5" font-size="12" fill="#fff" font-weight="bold" textLength="29" lengthAdjust="spacingAndGlyphs">13:25</text>
<path fill="#1e222d" d="M10 840.2h8.1v9.6h-4.1v-5.9h-4z M24.2 840.2h5.4l-4.4 9.6h-4.2z"/>
<circle cx="21.1" cy="842" r="1.7" fill="#1e222d"/>
<text x="33.2" y="849.7" font-size="12.5" fill="#1e222d" textLength="70" lengthAdjust="spacingAndGlyphs">TradingView</text>
<filter id="wb" x="-5%" y="-10%" width="110%" height="120%"><feGaussianBlur stdDeviation="0.7"/></filter>
<filter id="ds" x="-5%" y="-10%" width="110%" height="125%" color-interpolation-filters="sRGB">
<feOffset in="SourceAlpha" dx="1.7" dy="1.7" result="o"/>
<feGaussianBlur in="o" stdDeviation="0.8" result="b"/>
<feComposite in="b" in2="SourceAlpha" operator="out" result="sh"/>
<feFlood flood-color="#555868" flood-opacity="0.6"/><feComposite in2="sh" operator="in" result="shc"/>
<feFlood flood-color="#fff" flood-opacity="0.62"/><feComposite in2="SourceAlpha" operator="in" result="wh"/>
<feMerge><feMergeNode in="wh"/><feMergeNode in="shc"/></feMerge>
</filter>
<g fill="#fff" fill-rule="evenodd" stroke="#fff" stroke-width="0.5" stroke-linejoin="round" filter="url(#ds)"><path d="M1264.84 770.08 L1275.59 770.08 L1274.85 786.03 L1263.72 786.03z"/><path d="M1260.39 787.51 L1270.4 787.51 L1269.44 796.79 L1258.9 796.79z"/><path d="M1257.05 805.69 L1268.92 805.69 L1260.39 824.61 L1250.0 824.61z"/><path d="M1291.54 769.34 L1298.96 770.08 L1285.61 779.95 L1275.59 779.95z"/><path d="M1301.56 770.45 L1317.14 770.45 L1315.28 779.72 L1288.2 779.72z"/><path d="M1275.59 781.95 L1314.54 781.95 L1309.35 800.87 L1304.53 820.9 L1301.19 824.46 L1268.92 824.46zM1283.75 790.11 L1294.51 790.11 L1298.59 798.64 L1281.9 798.64zM1298.59 790.11 L1301.93 790.11 L1300.3 797.16zM1279.67 806.65 L1290.65 806.65 L1293.77 816.45 L1277.6 816.45zM1294.51 806.65 L1297.85 806.65 L1296.36 813.48z"/><path d="M1259.64 798.64 L1275.96 798.64 L1274.48 803.46 L1258.53 803.46z"/><path d="M1324.84 770.45 L1375.65 770.45 L1373.8 778.24 L1325.95 778.24z"/><path d="M1325.95 778.24 L1332.26 778.24 L1329.29 791.96 L1322.61 791.96z"/><path d="M1322.61 791.96 L1370.46 791.96 L1368.61 799.75 L1320.76 799.75z"/><path d="M1363.78 778.24 L1373.95 778.24 L1370.46 791.96 L1361.19 791.96z"/><path d="M1359.33 799.75 L1368.61 799.75 L1363.56 820.9 L1360.82 824.75 L1339.67 824.75 L1340.79 817.93 L1355.25 817.93z"/><path d="M1317.42 807.54 L1356.36 807.54 L1354.51 814.37 L1315.93 814.37z"/><path d="M1382.98 770.45 L1410.43 770.45 L1401.16 808.66 L1374.45 808.66zM1388.55 780.61 L1399.67 780.61 L1392.26 808.66 L1381.13 808.66z"/><path d="M1394.48 781.95 L1398.56 781.95 L1391.51 808.66 L1387.43 808.66z"/><path d="M1374.45 808.66 L1392.26 808.66 L1396.71 824.61 L1387.8 824.61 L1384.84 817.19 L1377.42 824.75 L1369.26 824.75z"/><path d="M1404.87 777.13 L1427.49 777.13 L1426.01 783.8 L1403.38 783.8z"/><path d="M1428.61 770.45 L1437.66 770.45 L1433.8 783.8 L1429.72 797.9 L1423.56 822.38 L1421.93 824.61 L1411.54 824.61 L1412.66 817.93 L1417.48 817.19z"/><path d="M1414.51 783.8 L1423.04 783.8 L1413.77 810.51 L1408.58 821.27 L1401.9 821.27z"/><path d="M1453.67 770.45 L1462.58 770.45 L1449.59 786.4 L1442.55 786.4 L1441.43 783.8z"/><path d="M1455.9 783.06 L1464.43 783.06 L1448.48 803.09 L1439.95 803.09z"/><path d="M1440.69 788.26 L1446.26 788.26 L1445.51 794.56 L1439.95 794.56z"/><path d="M1437.35 805.32 L1457.01 805.32 L1455.9 811.4 L1436.24 811.4z"/><path d="M1433.64 817.93 L1453.67 817.93 L1452.19 824.61 L1432.16 824.61z"/><path d="M1467.77 771.19 L1498.18 771.19 L1495.22 777.87 L1485.2 787.51 L1489.28 791.22 L1492.25 791.96 L1491.14 798.05 L1481.12 798.05 L1477.41 794.19 L1472.22 797.9 L1462.58 798.27 L1475.93 787.51 L1482.61 778.98 L1468.51 778.98z"/><path d="M1459.61 801.61 L1490.02 801.61 L1488.54 807.69 L1478.15 807.69 L1475.78 817.19 L1485.57 817.19 L1483.35 824.61 L1455.9 824.61 L1457.75 817.19 L1467.77 817.19 L1469.62 807.69 L1461.09 807.69z"/></g>
<g font-size="31.5" font-weight="bold" font-style="italic" fill="#9496a6" stroke="#9496a6" stroke-width="1.1" stroke-linejoin="round" filter="url(#wb)" opacity="0.9"><text x="1266.5" y="859.3" textLength="19.5" lengthAdjust="spacingAndGlyphs">z</text><text x="1292.8" y="859.3" textLength="19.2" lengthAdjust="spacingAndGlyphs">z</text><text x="1321.0" y="859.3" textLength="15.5" lengthAdjust="spacingAndGlyphs">r</text><text x="1345.4" y="859.3" textLength="13.9" lengthAdjust="spacingAndGlyphs">t</text><text x="1365.4" y="859.3" textLength="19.9" lengthAdjust="spacingAndGlyphs">0</text><text x="1399.1" y="859.3" textLength="13.9" lengthAdjust="spacingAndGlyphs">1</text><text x="1423.1" y="859.3" textLength="9.4" lengthAdjust="spacingAndGlyphs">.</text><text x="1443.9" y="859.3" textLength="16.3" lengthAdjust="spacingAndGlyphs">c</text><text x="1467.5" y="859.3" textLength="21.2" lengthAdjust="spacingAndGlyphs">n</text></g>
<g font-size="31.5" font-weight="bold" font-style="italic" fill="#8fd1c9" stroke="#8fd1c9" stroke-width="1.1" stroke-linejoin="round"><text x="1264.8" y="857.6" textLength="19.5" lengthAdjust="spacingAndGlyphs">z</text><text x="1291.1" y="857.6" textLength="19.2" lengthAdjust="spacingAndGlyphs">z</text><text x="1319.3" y="857.6" textLength="15.5" lengthAdjust="spacingAndGlyphs">r</text><text x="1343.7" y="857.6" textLength="13.9" lengthAdjust="spacingAndGlyphs">t</text><text x="1363.7" y="857.6" textLength="19.9" lengthAdjust="spacingAndGlyphs">0</text><text x="1397.4" y="857.6" textLength="13.9" lengthAdjust="spacingAndGlyphs">1</text><text x="1421.4" y="857.6" textLength="9.4" lengthAdjust="spacingAndGlyphs">.</text><text x="1442.2" y="857.6" textLength="16.3" lengthAdjust="spacingAndGlyphs">c</text><text x="1465.8" y="857.6" textLength="21.2" lengthAdjust="spacingAndGlyphs">n</text></g>
</svg>
</body></html>
